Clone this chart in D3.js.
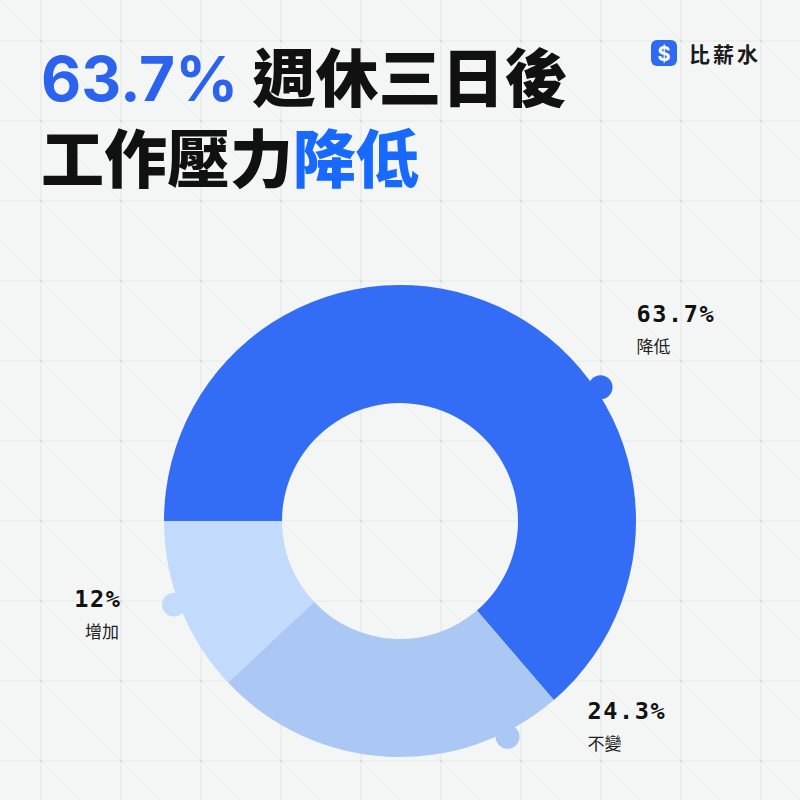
<!DOCTYPE html>
<html>
<head>
<meta charset="utf-8">
<script src="https://cdn.jsdelivr.net/npm/d3@7"></script>
<style>
  html, body { margin: 0; padding: 0; background: #F4F6F6; }
  svg { display: block; }
</style>
</head>
<body>
<svg id="chart" width="800" height="800"></svg>
<script>
// ---- data ----
const categories = ["降低", "不變", "增加"];
const values = [63.7, 24.3, 12];
const valueLabels = ["63.7%", "24.3%", "12%"];
const colors = ["#336CF5", "#ABC7F3", "#C2DBFD"];
const titleLine1 = ["63.7%", " 週休三日後"];
const titleLine2 = ["工作壓力", "降低"];
const brand = "比薪水";

// ---- layout ----
const W = 800, H = 800;
const cx = 400, cy = 521;
const outerR = 236, innerR = 118;
const bumpR = 241, bumpSize = 12;
const bumpFrac = [0.638, 0.162, 0.53];          // where each connector knob sits along its slice
const labelOffset = [[36, -65, "start"], [80, -18, "start"], [-54, 2, "end"]];

const svg = d3.select("#chart");
svg.append("rect").attr("width", W).attr("height", H).attr("fill", "#F4F6F6");

// ---- background grid ----
const grid = svg.append("g");
const gx = d3.range(41, W, 80), gy = d3.range(41, H, 80);
d3.range(-10, 11).forEach(k => {
  const off = 80 * k; // x - y = off
  grid.append("line")
    .attr("x1", off).attr("y1", 0).attr("x2", off + H).attr("y2", H)
    .attr("stroke", "#E9ECEC").attr("stroke-width", 1);
});
gx.forEach(x => grid.append("line").attr("x1", x).attr("x2", x).attr("y1", 0).attr("y2", H)
  .attr("stroke", "#E6E9E9").attr("stroke-width", 1.2));
gy.forEach(y => grid.append("line").attr("y1", y).attr("y2", y).attr("x1", 0).attr("x2", W)
  .attr("stroke", "#E6E9E9").attr("stroke-width", 1.2));
gx.forEach(x => gy.forEach(y => grid.append("rect").attr("x", x - 1).attr("y", y - 1)
  .attr("width", 2).attr("height", 2).attr("fill", "#D6DADA")));

// ---- title ----
const t1 = svg.append("text").attr("x", 41).attr("y", 101)
  .attr("font-weight", 700).attr("font-size", 63);
t1.append("tspan").text(titleLine1[0]).attr("fill", "#2B63EE")
  .attr("font-family", "Inter, 'Noto Sans', sans-serif").attr("font-size", 62);
t1.append("tspan").text(titleLine1[1]).attr("fill", "#111").attr("font-weight", 900)
  .attr("font-family", "'Noto Sans CJK TC', sans-serif");

const t2 = svg.append("text").attr("x", 41).attr("y", 182)
  .attr("font-weight", 900).attr("font-size", 63)
  .attr("font-family", "'Noto Sans CJK TC', sans-serif");
t2.append("tspan").text(titleLine2[0]).attr("fill", "#111");
t2.append("tspan").text(titleLine2[1]).attr("fill", "#1769FF");

// ---- brand ----
const logo = svg.append("g");
logo.append("rect").attr("x", 651).attr("y", 40).attr("width", 26).attr("height", 26)
  .attr("rx", 6).attr("fill", "#2F6BF2");
logo.append("text").attr("x", 664).attr("y", 60.5).attr("text-anchor", "middle")
  .attr("font-family", "Inter, sans-serif").attr("font-weight", 700).attr("font-size", 20)
  .attr("fill", "#fff").text("$");
logo.append("text").attr("x", 689).attr("y", 61.5)
  .attr("font-family", "'Noto Sans CJK TC', sans-serif").attr("font-weight", 700)
  .attr("font-size", 21).attr("letter-spacing", 3).attr("fill", "#1a1a1a").text(brand);

// ---- donut ----
const pie = d3.pie().sort(null).startAngle(-Math.PI / 2).endAngle(1.5 * Math.PI);
const arcs = pie(values);
const arc = d3.arc().innerRadius(innerR).outerRadius(outerR);
const g = svg.append("g").attr("transform", `translate(${cx},${cy})`);

g.selectAll("path.slice").data(arcs).join("path")
  .attr("class", "slice").attr("d", arc).attr("fill", (d, i) => colors[i]);

const bumpPos = arcs.map((d, i) => {
  const a = d.startAngle + (d.endAngle - d.startAngle) * bumpFrac[i];
  return [bumpR * Math.sin(a), -bumpR * Math.cos(a)];
});
g.selectAll("circle.bump").data(arcs).join("circle")
  .attr("class", "bump")
  .attr("cx", (d, i) => bumpPos[i][0]).attr("cy", (d, i) => bumpPos[i][1])
  .attr("r", bumpSize).attr("fill", (d, i) => colors[i]);

// ---- labels ----
const ls = 1.6;
arcs.forEach((d, i) => {
  const [ox, oy, anchor] = labelOffset[i];
  const x = cx + bumpPos[i][0] + ox, y = cy + bumpPos[i][1] + oy;
  const t = svg.append("text").attr("x", x).attr("y", y).attr("text-anchor", anchor)
    .attr("font-family", "'DejaVu Sans Mono', monospace").attr("font-weight", 700)
    .attr("font-size", 23.5).attr("letter-spacing", ls)
    .attr("fill", "#111").text(valueLabels[i]);
  if (anchor === "end") t.attr("dx", ls);
  svg.append("text").attr("x", anchor === "end" ? x - 1 : x).attr("y", y + 31).attr("text-anchor", anchor)
    .attr("font-family", "'Noto Sans CJK TC', sans-serif").attr("font-weight", 400)
    .attr("font-size", 17).attr("fill", "#222").text(categories[i]);
});
</script>
</body>
</html>
